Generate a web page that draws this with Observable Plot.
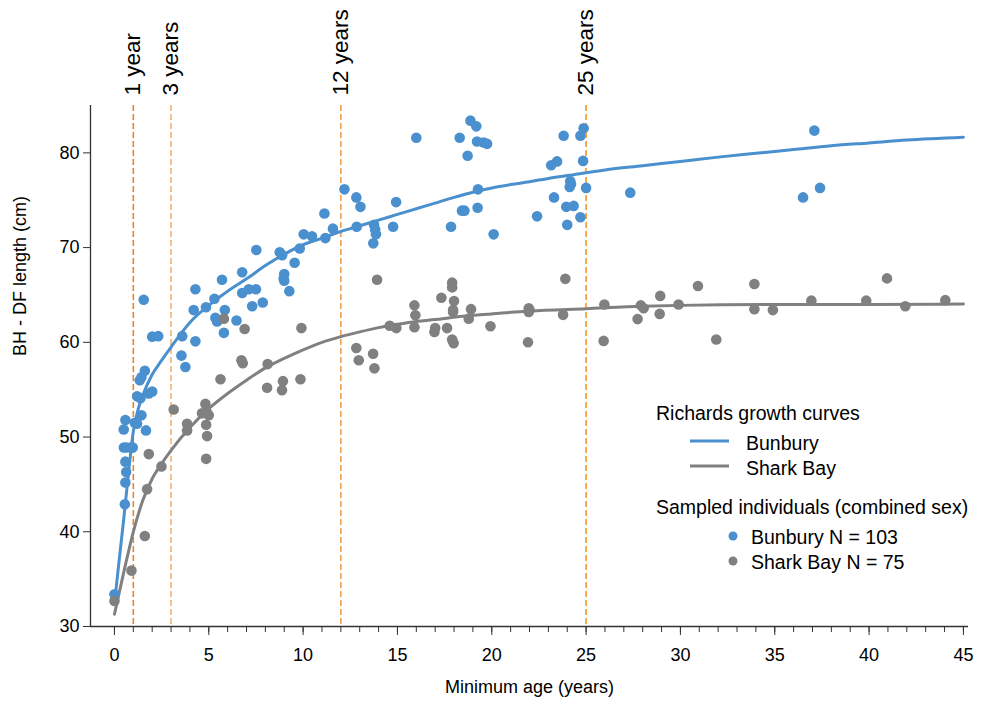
<!DOCTYPE html>
<html>
<head>
<meta charset="utf-8">
<script src="https://cdn.jsdelivr.net/npm/d3@7"></script>
<script src="https://cdn.jsdelivr.net/npm/@observablehq/plot@0.6"></script>
<style>
  body { margin: 0; background: #fff; }
  #chart { position: relative; width: 987px; height: 709px; font-family: "Liberation Sans", Arial, sans-serif; }
  #chart svg.legend { position: absolute; left: 0; top: 0; pointer-events: none; }
</style>
</head>
<body>
<div id="chart"></div>
<script>
// Sampled individuals (combined sex): minimum age (years) and BH - DF length (cm)
const bunburyAge = [0.0,0.55,0.58,0.62,0.58,0.5,0.62,0.85,0.97,0.49,
  0.58,1.08,1.2,1.43,1.67,1.2,1.38,1.82,2.0,1.34,
  1.43,1.61,1.55,2.0,2.32,3.55,3.76,3.59,4.29,4.2,
  4.29,4.85,5.3,5.35,5.44,5.85,5.8,5.7,6.47,6.77,
  7.12,7.5,7.3,7.86,6.77,7.52,8.76,8.89,9.82,9.55,
  9.0,8.97,9.0,9.27,10.03,10.47,11.18,11.13,11.58,12.19,
  12.82,13.04,12.84,13.76,13.82,13.86,13.72,14.77,14.93,16.0,
  18.3,18.87,19.18,19.22,19.57,19.75,18.72,19.27,18.42,18.55,
  19.25,17.84,20.1,22.4,23.3,23.15,23.46,23.81,24.7,24.87,
  24.84,24.16,24.13,24.2,25.0,23.95,24.34,24.0,24.7,27.34,
  37.1,36.5,37.4];
const bunburyLength = [33.4,42.9,45.2,46.3,47.4,48.9,48.9,48.9,48.9,50.8,
  51.8,51.5,51.4,52.3,50.7,54.3,54.1,54.6,54.8,56.0,
  56.3,57.0,64.5,60.6,60.65,58.6,57.4,60.65,60.1,63.4,
  65.6,63.7,64.6,62.6,62.2,63.4,61.0,66.6,62.3,65.2,
  65.6,65.6,63.8,64.2,67.4,69.75,69.5,69.2,69.9,68.4,
  67.2,66.75,66.5,65.4,71.4,71.2,71.0,73.6,72.0,76.15,
  75.3,74.3,72.2,72.4,71.9,71.4,70.45,72.2,74.8,81.6,
  81.6,83.4,82.8,81.2,81.1,80.95,79.7,76.15,73.9,73.9,
  74.2,72.2,71.4,73.3,75.3,78.7,79.1,81.8,81.8,82.6,
  79.15,77.0,76.4,76.7,76.3,74.3,74.4,72.4,73.2,75.8,
  82.35,75.3,76.3];

const sharkBayAge = [0.0,0.9,1.61,1.73,1.82,2.49,3.14,3.85,3.85,4.82,
  4.64,5.0,4.86,4.91,4.86,5.62,5.8,6.9,6.73,6.8,
  8.09,8.12,8.93,8.88,9.86,9.91,13.92,12.82,12.95,13.71,
  13.78,14.59,14.94,15.9,15.95,15.9,17.0,16.96,17.63,17.33,
  17.9,17.9,18.0,17.95,17.9,17.98,18.9,18.78,19.93,21.96,
  21.96,21.92,23.9,23.78,25.97,25.93,27.9,28.05,27.73,28.93,
  28.9,29.9,30.93,31.9,33.92,33.92,34.9,36.94,39.85,40.95,
  41.92,44.04,4.9,17.95,22.0];
const sharkBayLength = [32.7,35.9,39.55,44.5,48.2,46.9,52.9,51.4,50.7,53.5,
  52.5,52.3,51.3,50.1,47.7,56.1,62.5,61.4,58.1,57.8,
  55.2,57.7,55.9,54.95,56.1,61.5,66.6,59.4,58.1,58.8,
  57.25,61.75,61.5,63.9,62.85,61.6,61.5,61.1,61.5,64.7,
  66.3,65.8,64.35,63.4,60.3,59.9,63.5,62.5,61.7,63.6,
  63.2,60.0,66.7,62.9,64.0,60.15,63.9,63.6,62.45,64.9,
  63.0,64.0,65.95,60.3,66.15,63.5,63.4,64.4,64.4,66.75,
  63.8,64.45,52.6,63.2,63.4];

// Richards growth curves
const bunburyCurveAge = [0,0.25,0.5,0.75,1,1.25,1.5,2,2.5,3,4,5,6,7,8,9,10,11,12,13,14,15,16,17,18,19,20,21,22,23,24,26,28,30,32,34,36,38,40,42,45];
const bunburyCurveLength = [32.4,37.0,41.5,46.3,50.6,52.9,54.4,56.6,58.1,59.5,62.1,63.9,65.4,66.7,68.1,69.3,70.3,71.0,71.7,72.3,72.9,73.5,74.1,74.7,75.3,75.85,76.3,76.65,76.95,77.3,77.6,78.2,78.65,79.1,79.55,79.95,80.35,80.75,81.05,81.35,81.65];
const sharkBayCurveAge = [0,0.5,1,1.5,2,2.5,3,4,5,6,7,8,9,10,11,12,13,14,15,16,17,18,20,22,25,28,30,35,40,45];
const sharkBayCurveLength = [31.3,35.8,40.0,43.3,45.6,47.2,48.6,51.0,53.0,54.6,56.0,57.3,58.3,59.2,60.0,60.6,61.1,61.55,61.9,62.2,62.4,62.65,63.0,63.3,63.55,63.8,63.9,64.0,64.0,64.05];

// Reference ages
const markerAges = [1, 3, 12, 25];
const markerLabels = ["1 year", "3 years", "12 years", "25 years"];

const xTicks = [0, 5, 10, 15, 20, 25, 30, 35, 40, 45];
const xMinorTicks = d3.range(0, 46, 1);
const yTicks = [30, 40, 50, 60, 70, 80];

const seriesNames = ["Bunbury", "Shark Bay"];
const sampleCounts = [103, 75];

const blue = "#4a90cf";
const grey = "#808080";
const markerColors = ["#e8862f", "#f6b36d", "#f2a04b", "#f2962f"];
const axisColor = "#333";
const font = "Liberation Sans, Arial, sans-serif";

const toRows = (xs, ys) => xs.map((x, i) => ({age: x, length: ys[i]}));
const bunburyPoints = toRows(bunburyAge, bunburyLength);
const sharkBayPoints = toRows(sharkBayAge, sharkBayLength);
const bunburyCurve = toRows(bunburyCurveAge, bunburyCurveLength);
const sharkBayCurve = toRows(sharkBayCurveAge, sharkBayCurveLength);
const markers = markerAges.map((a, i) => ({age: a, label: markerLabels[i], color: markerColors[i]}));

const xMin = -1.27, xMax = 45.27;
const yMin = 30, yMax = 85;

const plot = Plot.plot({
  width: 987,
  height: 709,
  marginLeft: 90,
  marginRight: 19,
  marginTop: 105,
  marginBottom: 83,
  style: {fontFamily: font, fontSize: "18px", color: "#000", background: "#fff", overflow: "visible"},
  x: {domain: [xMin, xMax]},
  y: {domain: [yMin, yMax]},
  color: {type: "identity"},
  marks: [
    Plot.ruleX(markers, {x: "age", stroke: "color", strokeWidth: 1.6, strokeDasharray: "6,3"}),
    Plot.text(markers, {x: "age", text: "label", frameAnchor: "top", rotate: -90, textAnchor: "start",
      dx: -9, dy: -10, fontSize: 22.5, fill: "#000"}),
    Plot.line(sharkBayCurve, {x: "age", y: "length", stroke: grey, strokeWidth: 3, curve: "monotone-x"}),
    Plot.line(bunburyCurve, {x: "age", y: "length", stroke: blue, strokeWidth: 3, curve: "monotone-x"}),
    Plot.dot(bunburyPoints, {x: "age", y: "length", r: 5.3, fill: blue}),
    Plot.dot(sharkBayPoints, {x: "age", y: "length", r: 5.3, fill: grey}),
    Plot.ruleY([yMin], {stroke: axisColor, strokeWidth: 1.3}),
    Plot.ruleX([xMin], {stroke: axisColor, strokeWidth: 1.3}),
    Plot.axisX({ticks: xMinorTicks, tickSize: 6, text: null, label: null, stroke: axisColor}),
    Plot.axisX({ticks: xTicks, tickSize: 9, tickPadding: 13, tickFormat: d3.format("d"), label: null,
      stroke: axisColor, fill: "#000", fontSize: 18}),
    Plot.axisY({ticks: yTicks, tickSize: 7, tickPadding: 4, label: null, stroke: axisColor, fill: "#000", fontSize: 18}),
    Plot.text(["Minimum age (years)"], {frameAnchor: "bottom", dy: 66, fontSize: 18, fill: "#000"}),
    Plot.text(["BH - DF length (cm)"], {frameAnchor: "left", rotate: -90, dx: -70, dy: -10, fontSize: 18, fill: "#000"})
  ]
});

const chart = document.getElementById("chart");
chart.appendChild(plot);

// Legend drawn over the plot area
const legend = d3.create("svg")
  .attr("class", "legend")
  .attr("width", 987)
  .attr("height", 709)
  .style("font-family", font)
  .style("font-size", "19.5px");

legend.append("text").attr("x", 656).attr("y", 413).attr("dy", "0.35em").text("Richards growth curves");
[blue, grey].forEach((c, i) => {
  const y = 441 + i * 25;
  legend.append("line").attr("x1", 690).attr("x2", 729).attr("y1", y).attr("y2", y)
    .attr("stroke", c).attr("stroke-width", 3);
  legend.append("text").attr("x", 746).attr("y", y + 2).attr("dy", "0.35em").text(seriesNames[i]);
});
legend.append("text").attr("x", 656).attr("y", 507).attr("dy", "0.35em").text("Sampled individuals (combined sex)");
[blue, grey].forEach((c, i) => {
  const y = 536 + i * 25;
  legend.append("circle").attr("cx", 733).attr("cy", y).attr("r", 4.5).attr("fill", c);
  legend.append("text").attr("x", 751).attr("y", y + 1).attr("dy", "0.35em")
    .text(`${seriesNames[i]} N = ${sampleCounts[i]}`);
});
chart.appendChild(legend.node());
</script>
</body>
</html>
